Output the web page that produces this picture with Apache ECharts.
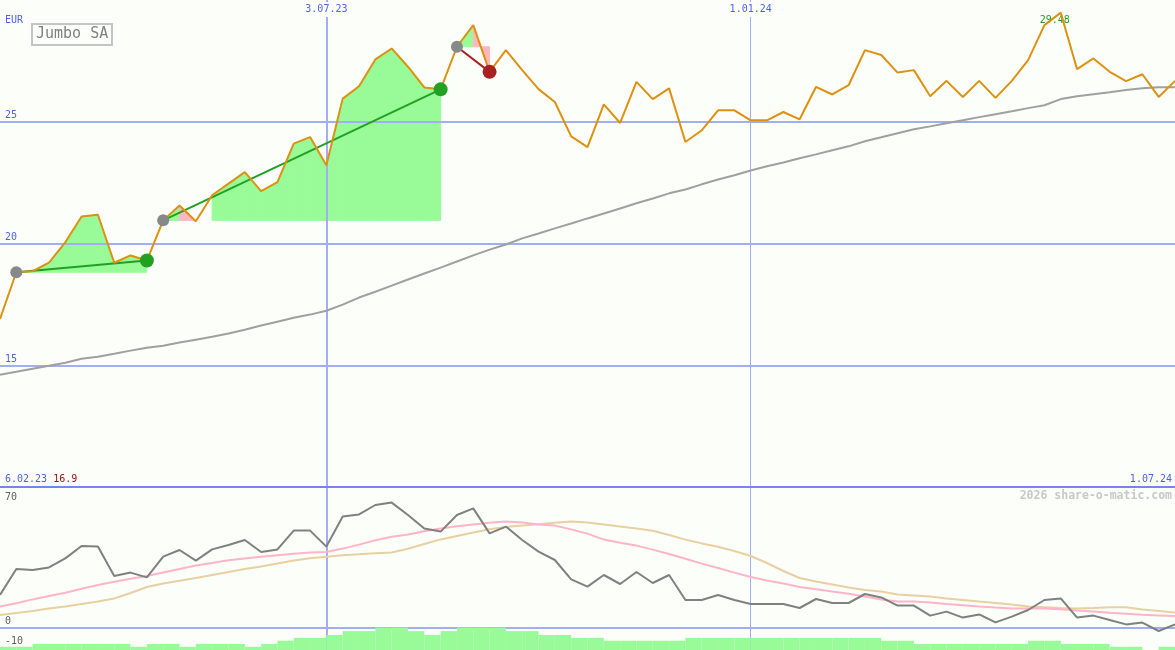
<!DOCTYPE html>
<html><head><meta charset="utf-8">
<script src="https://cdn.jsdelivr.net/npm/echarts@6/dist/echarts.min.js"></script>
<style>html,body{margin:0;padding:0;background:#fcfefa;}#c{width:1175px;height:650px;}</style>
</head><body><div id="c"></div>
<script>
const title = 'Jumbo SA';
const currency = 'EUR';
const watermark = '2026 share-o-matic.com';
// weekly closing prices (index 0..72)
const price = [16.90,18.82,18.86,19.21,20.05,21.11,21.18,19.21,19.51,19.30,
  20.95,21.56,20.91,21.98,22.46,22.93,22.15,22.52,24.10,24.37,
  23.21,25.95,26.46,27.56,28.01,27.26,26.41,26.33,28.08,28.97,
  27.05,27.94,27.12,26.34,25.81,24.40,23.96,25.71,24.95,26.64,
  25.93,26.37,24.17,24.65,25.47,25.47,25.06,25.06,25.40,25.10,
  26.43,26.12,26.50,27.94,27.74,27.02,27.12,26.05,26.68,26.02,
  26.68,25.98,26.68,27.53,28.97,29.48,27.16,27.60,27.05,26.67,
  26.95,26.02,26.68];
// long moving average
const movingAvg = [14.61,14.73,14.86,14.98,15.10,15.27,15.35,15.47,15.60,15.72,
  15.80,15.93,16.05,16.17,16.30,16.46,16.63,16.79,16.95,17.08,
  17.24,17.49,17.78,18.02,18.27,18.52,18.77,19.01,19.26,19.51,
  19.75,19.96,20.21,20.41,20.62,20.82,21.03,21.23,21.44,21.65,
  21.85,22.06,22.22,22.43,22.63,22.80,23.00,23.17,23.33,23.50,
  23.66,23.83,23.99,24.20,24.36,24.53,24.69,24.81,24.94,25.06,
  25.19,25.31,25.43,25.56,25.68,25.93,26.05,26.13,26.21,26.30,
  26.38,26.42,26.42];
// oscillator and its two averages
const oscillator = [16.5,29.5,29.0,30.3,34.8,41.0,40.7,26.0,27.7,25.3,
  35.7,39.0,33.7,39.3,41.5,44.0,38.0,39.3,48.7,48.7,
  40.7,55.7,56.8,61.5,62.7,56.5,49.8,48.2,56.5,59.8,
  47.3,50.7,44.0,38.2,34.0,24.3,20.7,26.5,22.0,28.0,
  22.5,26.5,14.0,14.0,16.5,14.0,12.0,12.0,12.0,10.0,
  14.5,12.5,12.5,17.0,15.3,11.2,11.2,6.2,8.2,5.2,
  6.8,2.8,5.7,9.0,14.0,14.8,5.2,6.2,4.0,1.8,
  2.7,-1.5,1.8];
const oscAvgFast = [10.7,12.4,14.3,16.0,17.6,19.6,21.5,23.1,24.6,26.0,
  27.8,29.5,31.2,32.5,33.9,34.8,35.6,36.4,37.1,37.7,
  38.0,39.7,41.7,43.9,45.6,46.8,48.4,49.7,50.9,51.8,
  52.6,53.2,52.8,51.7,51.2,49.3,47.2,44.2,42.6,41.2,
  39.2,37.0,34.6,32.2,30.0,27.7,25.5,23.8,22.2,20.5,
  19.4,18.2,17.1,15.8,14.3,13.2,13.2,12.8,12.0,11.4,
  10.7,10.2,9.8,9.8,9.8,9.4,8.8,8.3,7.6,7.1,
  6.6,6.3,6.0];
const oscAvgSlow = [6.5,7.5,8.5,9.7,10.8,12.0,13.3,14.8,17.5,20.5,
  22.3,23.6,25.0,26.5,28.0,29.5,30.8,32.2,33.8,34.9,
  35.6,36.4,36.9,37.4,37.8,39.6,42.0,44.3,46.0,47.7,
  49.4,50.5,51.2,51.9,52.6,53.2,52.8,51.8,50.7,49.8,
  48.6,46.5,44.2,42.3,40.6,38.5,36.0,32.5,28.5,25.0,
  23.3,21.8,20.2,19.0,18.2,16.8,16.3,15.7,14.8,14.0,
  13.2,12.5,11.8,10.8,10.4,10.0,9.8,10.0,10.4,10.4,
  9.3,8.5,7.7];
// volume per weekly interval (72 intervals)
const volume = [1,1,1.9,1.9,1.9,1.9,1.9,1.9,1,1.9,
  1.9,1,1.9,1.9,1.9,1,1.9,2.9,3.8,3.8,
  4.7,5.9,5.9,7,7,5.9,4.7,5.9,7,7,
  7,5.9,5.9,4.7,4.7,3.8,3.8,2.9,2.9,2.9,
  2.9,2.9,3.8,3.8,3.8,3.8,3.8,3.8,3.8,3.8,
  3.8,3.8,3.8,3.8,2.9,2.9,1.9,1.9,1.9,1.9,
  1.9,1.9,1.9,2.9,2.9,1.9,1.9,1.9,1,1,
  0,1];
// trades: [entry index, exit index]
const trades = [[1,9],[10,27],[28,30]];
const priceTicks = [15,20,25];
const oscTicks = [-10,0];
const oscTopTick = 70;
const dateMarkA = {at:20, label:'3.07.23'};
const dateMarkB = {at:46, label:'1.01.24'};
const rangeLabels = ['6.02.23','1.07.24'];

const BG = '#fcfefa', BLUE_TXT = '#5060f0', GRID = '#a3aef2', DARK = '#7584ee';
const FONT = 'DejaVu Sans Mono';
const GAIN = '#98fb98', LOSS = '#ffb6c1';
const N = price.length - 1;
const T = 'rgba(0,0,0,0)';

const pricePts = price.map((v,i)=>[i,v]);
const maPts = movingAvg.map((v,i)=>[i,v]);
const oscPts = oscillator.map((v,i)=>[i,v]);
const fastPts = oscAvgFast.map((v,i)=>[i,v]);
const slowPts = oscAvgSlow.map((v,i)=>[i,v]);

const fillData = [];
trades.forEach(([a,b]) => {
  const base = price[a];
  for (let k=a;k<b;k++){
    const p0=price[k], p1=price[k+1];
    let kind = null;
    if (p1 < base) kind = 0; else if (p0 >= base) kind = 1;
    if (kind !== null) fillData.push([k,p0,k+1,p1,base,kind]);
  }
});

const tradeLineSeries = trades.map(([a,b]) => ({
  type:'line', xAxisIndex:0, yAxisIndex:0, z:4, silent:true, symbol:'none',
  data:[[a,price[a]],[b,price[b]]],
  lineStyle:{color: price[b]>=price[a] ? '#22a022' : '#a82020', width:2}
}));

const vlineAxis = (grid, mark, width, withLabel) => ({
  type:'value', gridIndex:grid, position:'top', min:0, max:N,
  axisLine:{show:false},
  axisTick:{show:false, customValues:[mark.at]},
  splitLine:{show:true, customValues:[mark.at], lineStyle:{color:GRID, width:width}},
  axisLabel: withLabel ? {show:true, customValues:[mark.at], inside:true, margin:2,
    formatter:()=>mark.label, color:BLUE_TXT, fontFamily:FONT, fontSize:10,
    backgroundColor:BG, padding:[2,2,3,2]} : {show:false}
});

const chart = echarts.init(document.getElementById('c'));
chart.setOption({
  animation:false,
  backgroundColor:BG,
  title:{text:title, left:32, top:24, padding:[3,4,3,4], borderColor:'#c4c4c4', borderWidth:2,
    textStyle:{color:'#808080', fontFamily:FONT, fontSize:15, fontWeight:'normal'}},
  graphic:[
    {type:'text', left:5, top:15, style:{text:currency, fill:BLUE_TXT, font:'10px '+FONT}},
    {type:'text', right:3, top:490, style:{text:watermark, fill:'#c8c8c8', font:'bold 11.5px '+FONT}}
  ],
  grid:[
    {left:0, right:0, top:0, height:487},
    {left:0, right:0, top:488, height:160},
    {left:0, right:0, top:488, height:162}
  ],
  xAxis:[
    {type:'value', gridIndex:0, min:0, max:N, interval:N, position:'bottom',
      axisLine:{show:true, lineStyle:{color:DARK, width:2}}, axisTick:{show:false}, splitLine:{show:false},
      axisLabel:{show:true, inside:true, margin:3, alignMinLabel:'left', alignMaxLabel:'right',
        padding:[0,3,0,5], fontFamily:FONT, fontSize:10, color:BLUE_TXT,
        formatter:(v)=> v===0 ? '{d|'+rangeLabels[0]+'} {r|'+price[0]+'}' : '{d|'+rangeLabels[1]+'}',
        rich:{d:{color:BLUE_TXT, fontFamily:FONT, fontSize:10}, r:{color:'#a01010', fontFamily:FONT, fontSize:10}}}},
    vlineAxis(0, dateMarkA, 2, true),
    vlineAxis(0, dateMarkB, 1, true),
    {type:'value', gridIndex:1, min:0, max:N, show:false},
    vlineAxis(2, dateMarkA, 2, false),
    vlineAxis(2, dateMarkB, 1, false),
    {type:'category', gridIndex:2, data:volume.map((_,i)=>i), show:false, boundaryGap:true}
  ],
  yAxis:[
    {type:'value', gridIndex:0, min:10, max:30, interval:5, position:'left',
      axisLine:{show:false}, axisTick:{show:false},
      splitLine:{show:true, lineStyle:{color:[T,GRID,GRID,GRID,T], width:2}},
      axisLabel:{inside:true, margin:5, verticalAlign:'bottom', padding:[0,0,1,0], color:BLUE_TXT, fontFamily:FONT, fontSize:10,
        formatter:(v)=> priceTicks.includes(v) ? String(v) : ''}},
    {type:'value', gridIndex:1, min:-10, max:70, interval:10, position:'left',
      axisLine:{show:false}, axisTick:{show:false},
      splitLine:{show:true, lineStyle:{color:[T,GRID,T,T,T,T,T,T,T], width:2}},
      axisLabel:{inside:true, margin:5, verticalAlign:'bottom', padding:[0,0,2,0], color:'#606060', fontFamily:FONT, fontSize:10,
        formatter:(v)=> oscTicks.includes(v) ? String(v) : ''}},
    {type:'value', gridIndex:1, min:-10, max:70, interval:10, position:'left', offset:0,
      axisLine:{show:false}, axisTick:{show:false}, splitLine:{show:false},
      axisLabel:{inside:true, margin:5, verticalAlign:'top', padding:[4,0,0,0], color:'#606060', fontFamily:FONT, fontSize:10,
        formatter:(v)=> v===oscTopTick ? String(v) : ''}},
    {type:'value', gridIndex:2, min:0, max:50.6, show:false}
  ],
  series:[
    {type:'custom', xAxisIndex:0, yAxisIndex:0, z:-1, silent:true, data:fillData,
      encode:{x:[0,2], y:[1,3,4]},
      renderItem:(params, api)=>{
        const a = api.coord([api.value(0), api.value(4)]);
        const b = api.coord([api.value(0), api.value(1)]);
        const c = api.coord([api.value(2), api.value(3)]);
        const d = api.coord([api.value(2), api.value(4)]);
        const col = api.value(5) ? GAIN : LOSS;
        return {type:'polygon', shape:{points:[a,b,c,d]}, style:{fill: col, stroke: col, lineWidth: 1}};
      }},
    {type:'line', name:'ma', xAxisIndex:0, yAxisIndex:0, data:maPts, symbol:'none', silent:true, z:3,
      lineStyle:{color:'#a0a0a0', width:2}},
    ...tradeLineSeries,
    {type:'line', name:'price', xAxisIndex:0, yAxisIndex:0, data:pricePts, symbol:'none', silent:true, z:5,
      lineStyle:{color:'#de9010', width:2},
      markPoint:{symbol:'circle', symbolSize:0, silent:true,
        data:[{type:'max', label:{show:true, position:'inside', offset:[-6,8], formatter:(p)=>p.value.toFixed(2),
          color:'#20a020', fontFamily:FONT, fontSize:10}}]}},
    {type:'scatter', xAxisIndex:0, yAxisIndex:0, z:6, silent:true, symbolSize:12,
      data:trades.map(([a])=>[a,price[a]]), itemStyle:{color:'#888888', opacity:1}},
    {type:'scatter', xAxisIndex:0, yAxisIndex:0, z:6, silent:true, symbolSize:14,
      data:trades.map(([a,b])=>({value:[b,price[b]], itemStyle:{color: price[b]>=price[a] ? '#22a022' : '#a82020'}})),
      itemStyle:{opacity:1}},
    {type:'line', xAxisIndex:3, yAxisIndex:1, data:slowPts, symbol:'none', silent:true, z:3, lineStyle:{color:'#e8d0a0', width:2}},
    {type:'line', xAxisIndex:3, yAxisIndex:1, data:fastPts, symbol:'none', silent:true, z:3, lineStyle:{color:'#ffb4c8', width:2}},
    {type:'line', xAxisIndex:3, yAxisIndex:1, data:oscPts, symbol:'none', silent:true, z:4, lineStyle:{color:'#808080', width:2}},
    {type:'bar', xAxisIndex:6, yAxisIndex:3, data:volume, barWidth:'100%', barCategoryGap:'0%', silent:true, z:5,
      itemStyle:{color:'#98fb98'}}
  ]
});
</script></body></html>
